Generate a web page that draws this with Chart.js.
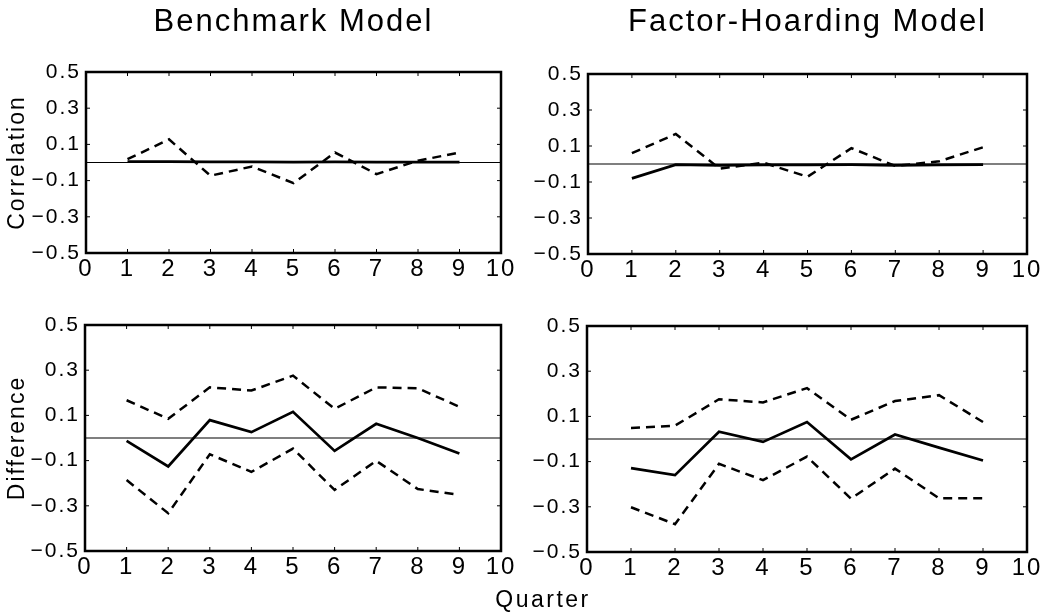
<!DOCTYPE html>
<html>
<head>
<meta charset="utf-8">
<script src="https://cdn.jsdelivr.net/npm/chart.js@4.4.1/dist/chart.umd.min.js"></script>
<style>
  html, body { margin: 0; padding: 0; background: #fff; }
  body { width: 1055px; height: 615px; position: relative; overflow: hidden; }
  .panel { position: absolute; }
  #quarter { position: absolute; top: 585px; left: 543px; transform: translateX(-50%);
    font-family: "Liberation Sans", Arial, sans-serif; font-size: 23px; letter-spacing: 2.5px;
    line-height: 28px; color: #000; white-space: nowrap; }
</style>
</head>
<body>
<div class="panel" id="p1" style="left:0;top:0;width:527px;height:300px"><canvas id="c1"></canvas></div>
<div class="panel" id="p2" style="left:527px;top:0;width:528px;height:300px"><canvas id="c2"></canvas></div>
<div class="panel" id="p3" style="left:0;top:300px;width:527px;height:290px"><canvas id="c3"></canvas></div>
<div class="panel" id="p4" style="left:527px;top:300px;width:528px;height:290px"><canvas id="c4"></canvas></div>
<div id="quarter">Quarter</div>
<script>
// ---------- data ----------
const quarters = [1, 2, 3, 4, 5, 6, 7, 8, 9];
const xDomain = [0, 10];
const yTicks = [-0.5, -0.3, -0.1, 0.1, 0.3, 0.5];

const titles = ["Benchmark Model", "Factor-Hoarding Model"];
const rowTitles = ["Correlation", "Difference"];
const xAxisTitle = "Quarter";

// Benchmark model: correlation
const benchCorrSolid  = [0.005, 0.005, 0.003, 0.004, 0.002, 0.003, 0.002, 0.002, 0.002];
const benchCorrDashed = [0.018, 0.128, -0.073, -0.022, -0.114, 0.055, -0.064, 0.010, 0.055];
// Factor-hoarding model: correlation
const factCorrSolid  = [-0.080, -0.004, -0.008, -0.005, -0.005, -0.004, -0.008, -0.005, -0.004];
const factCorrDashed = [0.060, 0.167, -0.026, 0.007, -0.071, 0.088, -0.011, 0.015, 0.093];
// Benchmark model: difference
const benchDiffUpper = [0.167, 0.085, 0.224, 0.210, 0.276, 0.129, 0.224, 0.220, 0.138];
const benchDiffMid   = [-0.013, -0.126, 0.079, 0.026, 0.116, -0.057, 0.063, 0.000, -0.069];
const benchDiffLower = [-0.186, -0.333, -0.072, -0.150, -0.047, -0.230, -0.101, -0.226, -0.251];
// Factor-hoarding model: difference
const factDiffUpper = [0.049, 0.059, 0.176, 0.162, 0.225, 0.085, 0.168, 0.194, 0.075];
const factDiffMid   = [-0.129, -0.160, 0.032, -0.013, 0.075, -0.090, 0.020, -0.038, -0.095];
const factDiffLower = [-0.302, -0.377, -0.110, -0.182, -0.078, -0.264, -0.131, -0.262, -0.262];

// ---------- helpers ----------
const FONT = '"Liberation Sans", Arial, sans-serif';
document.getElementById('quarter').textContent = xAxisTitle;

const pts = vals => vals.map((v, i) => ({ x: quarters[i], y: v }));

const spacingPlugin = {
  id: 'spacing',
  beforeLayout(chart) { chart.ctx.letterSpacing = '2px'; },
  beforeDraw(chart) { chart.ctx.letterSpacing = '2px'; }
};

const framePlugin = {
  id: 'frame',
  afterDatasetsDraw(chart) {
    const { ctx, chartArea: { left, top, right, bottom } } = chart;
    const xs = chart.scales.x, ys = chart.scales.y;
    ctx.save();
    ctx.strokeStyle = '#000';
    ctx.lineWidth = 1;
    xs.ticks.forEach((t, i) => {
      const px = xs.getPixelForTick(i);
      ctx.beginPath(); ctx.moveTo(px, bottom); ctx.lineTo(px, bottom - 4); ctx.stroke();
      ctx.beginPath(); ctx.moveTo(px, top); ctx.lineTo(px, top + 4); ctx.stroke();
    });
    ys.ticks.forEach((t, i) => {
      const py = ys.getPixelForTick(i);
      ctx.beginPath(); ctx.moveTo(left, py); ctx.lineTo(left + 4, py); ctx.stroke();
      ctx.beginPath(); ctx.moveTo(right, py); ctx.lineTo(right - 4, py); ctx.stroke();
    });
    ctx.lineWidth = 2.5;
    ctx.strokeRect(left, top, right - left, bottom - top);
    ctx.restore();
  }
};

function lineDs(vals, dashed) {
  return {
    data: pts(vals),
    borderColor: '#000',
    borderWidth: dashed ? 2.5 : 2.7,
    borderDash: dashed ? [9, 6] : [],
    pointRadius: 0,
    fill: false,
    tension: 0
  };
}

function zeroDs() {
  return {
    data: xDomain.map(x => ({ x, y: 0 })),
    borderColor: '#000',
    borderWidth: 1.2,
    pointRadius: 0,
    fill: false,
    order: 10
  };
}

function makePanel(id, opt) {
  const datasets = [zeroDs()].concat(opt.series.map(s => lineDs(s.vals, s.dashed)));
  new Chart(document.getElementById(id), {
    type: 'line',
    data: { datasets },
    plugins: [spacingPlugin, framePlugin],
    options: {
      responsive: true,
      maintainAspectRatio: false,
      animation: false,
      events: [],
      layout: { padding: opt.padding },
      plugins: {
        legend: { display: false },
        tooltip: { enabled: false },
        title: opt.title ? {
          display: true, text: opt.title, color: '#000', fullSize: false,
          font: { family: FONT, size: 31, weight: 'normal' },
          padding: { top: 4, bottom: opt.titleGap }
        } : { display: false }
      },
      scales: {
        x: {
          type: 'linear', min: xDomain[0], max: xDomain[1],
          grid: { display: false, drawTicks: false },
          border: { display: false },
          ticks: { stepSize: 1, color: '#000', padding: 2, maxRotation: 0,
                   font: { family: FONT, size: 24 } },
          afterFit(s) { s.height = 30; }
        },
        y: {
          type: 'linear', min: yTicks[0], max: yTicks[yTicks.length - 1],
          grid: { display: false, drawTicks: false },
          border: { display: false },
          afterBuildTicks(s) { s.ticks = yTicks.map(v => ({ value: v })); },
          ticks: {
            color: '#000', padding: 5,
            font: { family: FONT, size: 21 },
            callback: v => (v < 0 ? '\u2212' : '') + Math.abs(v).toFixed(1)
          },
          title: opt.yTitle ? {
            display: true, text: opt.yTitle, color: '#000',
            font: { family: FONT, size: 23 }, padding: { top: 4, bottom: 0 }
          } : { display: false },
          afterFit(s) { s.width = opt.yWidth; }
        }
      }
    }
  });
}

makePanel('c1', {
  title: titles[0], titleGap: 30.8, yTitle: rowTitles[0], yWidth: 86,
  padding: { top: 0, right: 26, bottom: 17, left: 0 },
  series: [{ vals: benchCorrSolid, dashed: false }, { vals: benchCorrDashed, dashed: true }]
});
makePanel('c2', {
  title: titles[1], titleGap: 32.8, yTitle: null, yWidth: 61,
  padding: { top: 0, right: 28, bottom: 16, left: 0 },
  series: [{ vals: factCorrSolid, dashed: false }, { vals: factCorrDashed, dashed: true }]
});
makePanel('c3', {
  title: null, yTitle: rowTitles[1], yWidth: 85,
  padding: { top: 25, right: 26, bottom: 9, left: 0 },
  series: [{ vals: benchDiffUpper, dashed: true }, { vals: benchDiffMid, dashed: false },
           { vals: benchDiffLower, dashed: true }]
});
makePanel('c4', {
  title: null, yTitle: null, yWidth: 60,
  padding: { top: 26, right: 28, bottom: 8, left: 0 },
  series: [{ vals: factDiffUpper, dashed: true }, { vals: factDiffMid, dashed: false },
           { vals: factDiffLower, dashed: true }]
});
</script>
</body>
</html>
